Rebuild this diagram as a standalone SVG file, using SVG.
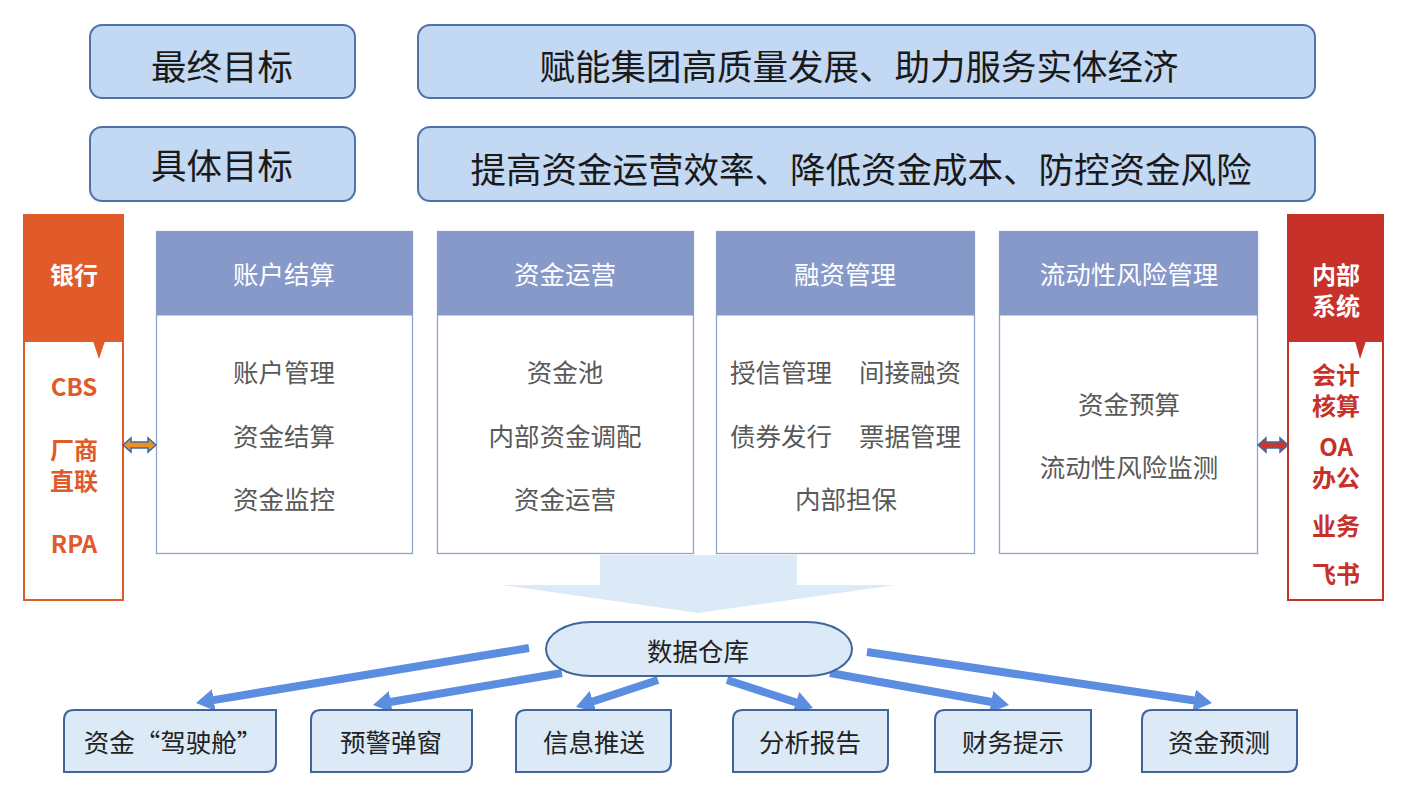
<svg xmlns="http://www.w3.org/2000/svg" width="1417" height="810" viewBox="0 0 1417 810">
<defs>
<style>
text{font-family:"Noto Sans CJK SC","Noto Sans",sans-serif;text-anchor:middle;dominant-baseline:central}
.goal{fill:#c3d8f2;stroke:#4f72a8;stroke-width:2}
.gt{font-size:35.5px;fill:#1a1a1a}
.mh{fill:#8799c9}
.mb{fill:#fff;stroke:#8fa3cc;stroke-width:1.3}
.mht{font-size:25.5px;fill:#fff}
.mi{font-size:25.5px;fill:#595959}
.side{font-size:24px;font-weight:bold}
.bx{fill:#dce9f7;stroke:#41659a;stroke-width:2}
.bt{font-size:25.5px;fill:#222}
.conn{stroke:#5b8ee0;stroke-width:8;fill:none;marker-end:url(#ah)}
</style>
<marker id="ah" viewBox="0 0 20 22" refX="2" refY="11" markerWidth="20" markerHeight="22" markerUnits="userSpaceOnUse" orient="auto">
<path d="M0,0 L18,11 L0,22 Z" fill="#5b8ee0"/>
</marker>
</defs>
<rect width="1417" height="810" fill="#fff"/>

<g id="goal-final-label"><rect class="goal" x="90" y="25" width="265" height="73" rx="12"/><text class="gt" x="222" y="64">最终目标</text></g>
<g id="goal-final"><rect class="goal" x="418" y="25" width="897" height="73" rx="12"/><text class="gt" x="859" y="64">赋能集团高质量发展、助力服务实体经济</text></g>
<g id="goal-specific-label"><rect class="goal" x="90" y="127" width="265" height="74" rx="12"/><text class="gt" x="222" y="163">具体目标</text></g>
<g id="goal-specific"><rect class="goal" x="418" y="127" width="897" height="74" rx="12"/><text class="gt" x="861" y="167">提高资金运营效率、降低资金成本、防控资金风险</text></g>

<g id="bank">
<rect x="24" y="215" width="99" height="385" fill="#fff" stroke="#e05a2a" stroke-width="2"/>
<rect x="24" y="215" width="99" height="127" fill="#e05a2a"/>
<path d="M93,341 L99,359 L105,341 Z" fill="#e05a2a"/>
<text class="side" x="74" y="273" fill="#fff">银行</text>
<text class="side" x="74" y="385" fill="#e05a2a">CBS</text>
<text class="side" x="74" y="448" fill="#e05a2a"><tspan x="74" y="448">厂商</tspan><tspan x="74" y="479">直联</tspan></text>
<text class="side" x="74" y="542" fill="#e05a2a">RPA</text>
</g>

<g id="internal">
<rect x="1288" y="215" width="95" height="385" fill="#fff" stroke="#c8302a" stroke-width="2"/>
<rect x="1288" y="215" width="95" height="127" fill="#c8302a"/>
<path d="M1355,341 L1360,359 L1366,341 Z" fill="#c8302a"/>
<text class="side" x="1336" y="273" fill="#fff"><tspan x="1336" y="273">内部</tspan><tspan x="1336" y="304">系统</tspan></text>
<text class="side" x="1336" y="373" fill="#c8302a"><tspan x="1336" y="373">会计</tspan><tspan x="1336" y="404">核算</tspan></text>
<text class="side" x="1336" y="445" fill="#c8302a"><tspan x="1336" y="445">OA</tspan><tspan x="1336" y="476">办公</tspan></text>
<text class="side" x="1336" y="524" fill="#c8302a">业务</text>
<text class="side" x="1336" y="572" fill="#c8302a">飞书</text>
</g>

<g id="m-account">
<rect class="mb" x="156.5" y="231.5" width="256" height="322"/>
<rect class="mh" x="156.5" y="231.5" width="256" height="84"/>
<text class="mht" x="284" y="272">账户结算</text>
<text class="mi" x="284" y="370">账户管理</text>
<text class="mi" x="284" y="434">资金结算</text>
<text class="mi" x="284" y="497">资金监控</text>
</g>
<g id="m-operation">
<rect class="mb" x="437.5" y="231.5" width="256" height="322"/>
<rect class="mh" x="437.5" y="231.5" width="256" height="84"/>
<text class="mht" x="565" y="272">资金运营</text>
<text class="mi" x="565" y="370">资金池</text>
<text class="mi" x="565" y="434">内部资金调配</text>
<text class="mi" x="565" y="497">资金运营</text>
</g>
<g id="m-finance">
<rect class="mb" x="716.5" y="231.5" width="258" height="322"/>
<rect class="mh" x="716.5" y="231.5" width="258" height="84"/>
<text class="mht" x="845" y="272">融资管理</text>
<text class="mi" x="781" y="370">授信管理</text>
<text class="mi" x="910" y="370">间接融资</text>
<text class="mi" x="781" y="434">债券发行</text>
<text class="mi" x="910" y="434">票据管理</text>
<text class="mi" x="846" y="497">内部担保</text>
</g>
<g id="m-liquidity">
<rect class="mb" x="999.5" y="231.5" width="258" height="322"/>
<rect class="mh" x="999.5" y="231.5" width="258" height="84"/>
<text class="mht" x="1129" y="272">流动性风险管理</text>
<text class="mi" x="1129" y="402">资金预算</text>
<text class="mi" x="1129" y="465">流动性风险监测</text>
</g>

<g id="connectors">
<polygon points="123,445 131,438 131,442 148,442 148,438 156,445 148,452 148,448 131,448 131,452" fill="#f0901a" stroke="#3f6aa6" stroke-width="1.5"/>
<polygon points="1258,445 1266,438 1266,442 1280,442 1280,438 1288,445 1280,452 1280,448 1266,448 1266,452" fill="#d0352a" stroke="#3f6aa6" stroke-width="1.5"/>
<polygon points="600,555 797,555 797,585 895,585 698,613 502,585 600,585" fill="#dce9f7"/>
<line class="conn" x1="529" y1="648" x2="211.8" y2="700.4"/>
<line class="conn" x1="562" y1="673" x2="388.8" y2="702.3"/>
<line class="conn" x1="658" y1="680" x2="591.2" y2="702"/>
<line class="conn" x1="727" y1="680" x2="797.8" y2="703"/>
<line class="conn" x1="830" y1="673" x2="993.2" y2="702.2"/>
<line class="conn" x1="867" y1="652" x2="1196.2" y2="700.7"/>
</g>

<g id="warehouse">
<rect x="546" y="622" width="306" height="54" rx="45" ry="27" fill="#dce9f7" stroke="#41659a" stroke-width="2"/>
<text class="bt" x="698" y="649">数据仓库</text>
</g>

<g id="cockpit"><path class="bx" d="M64,720 Q64,710 74,710 H276 V762 Q276,772 266,772 H64 Z"/><text class="bt" x="173" y="740">资金“驾驶舱”</text></g>
<g id="alert"><path class="bx" d="M311,720 Q311,710 321,710 H472 V762 Q472,772 462,772 H311 Z"/><text class="bt" x="391" y="740">预警弹窗</text></g>
<g id="push"><path class="bx" d="M516,720 Q516,710 526,710 H671 V762 Q671,772 661,772 H516 Z"/><text class="bt" x="594" y="740">信息推送</text></g>
<g id="report"><path class="bx" d="M733,720 Q733,710 743,710 H888 V762 Q888,772 878,772 H733 Z"/><text class="bt" x="810" y="740">分析报告</text></g>
<g id="tips"><path class="bx" d="M935,720 Q935,710 945,710 H1091 V762 Q1091,772 1081,772 H935 Z"/><text class="bt" x="1013" y="740">财务提示</text></g>
<g id="forecast"><path class="bx" d="M1142,720 Q1142,710 1152,710 H1297 V762 Q1297,772 1287,772 H1142 Z"/><text class="bt" x="1219" y="740">资金预测</text></g>
</svg>
